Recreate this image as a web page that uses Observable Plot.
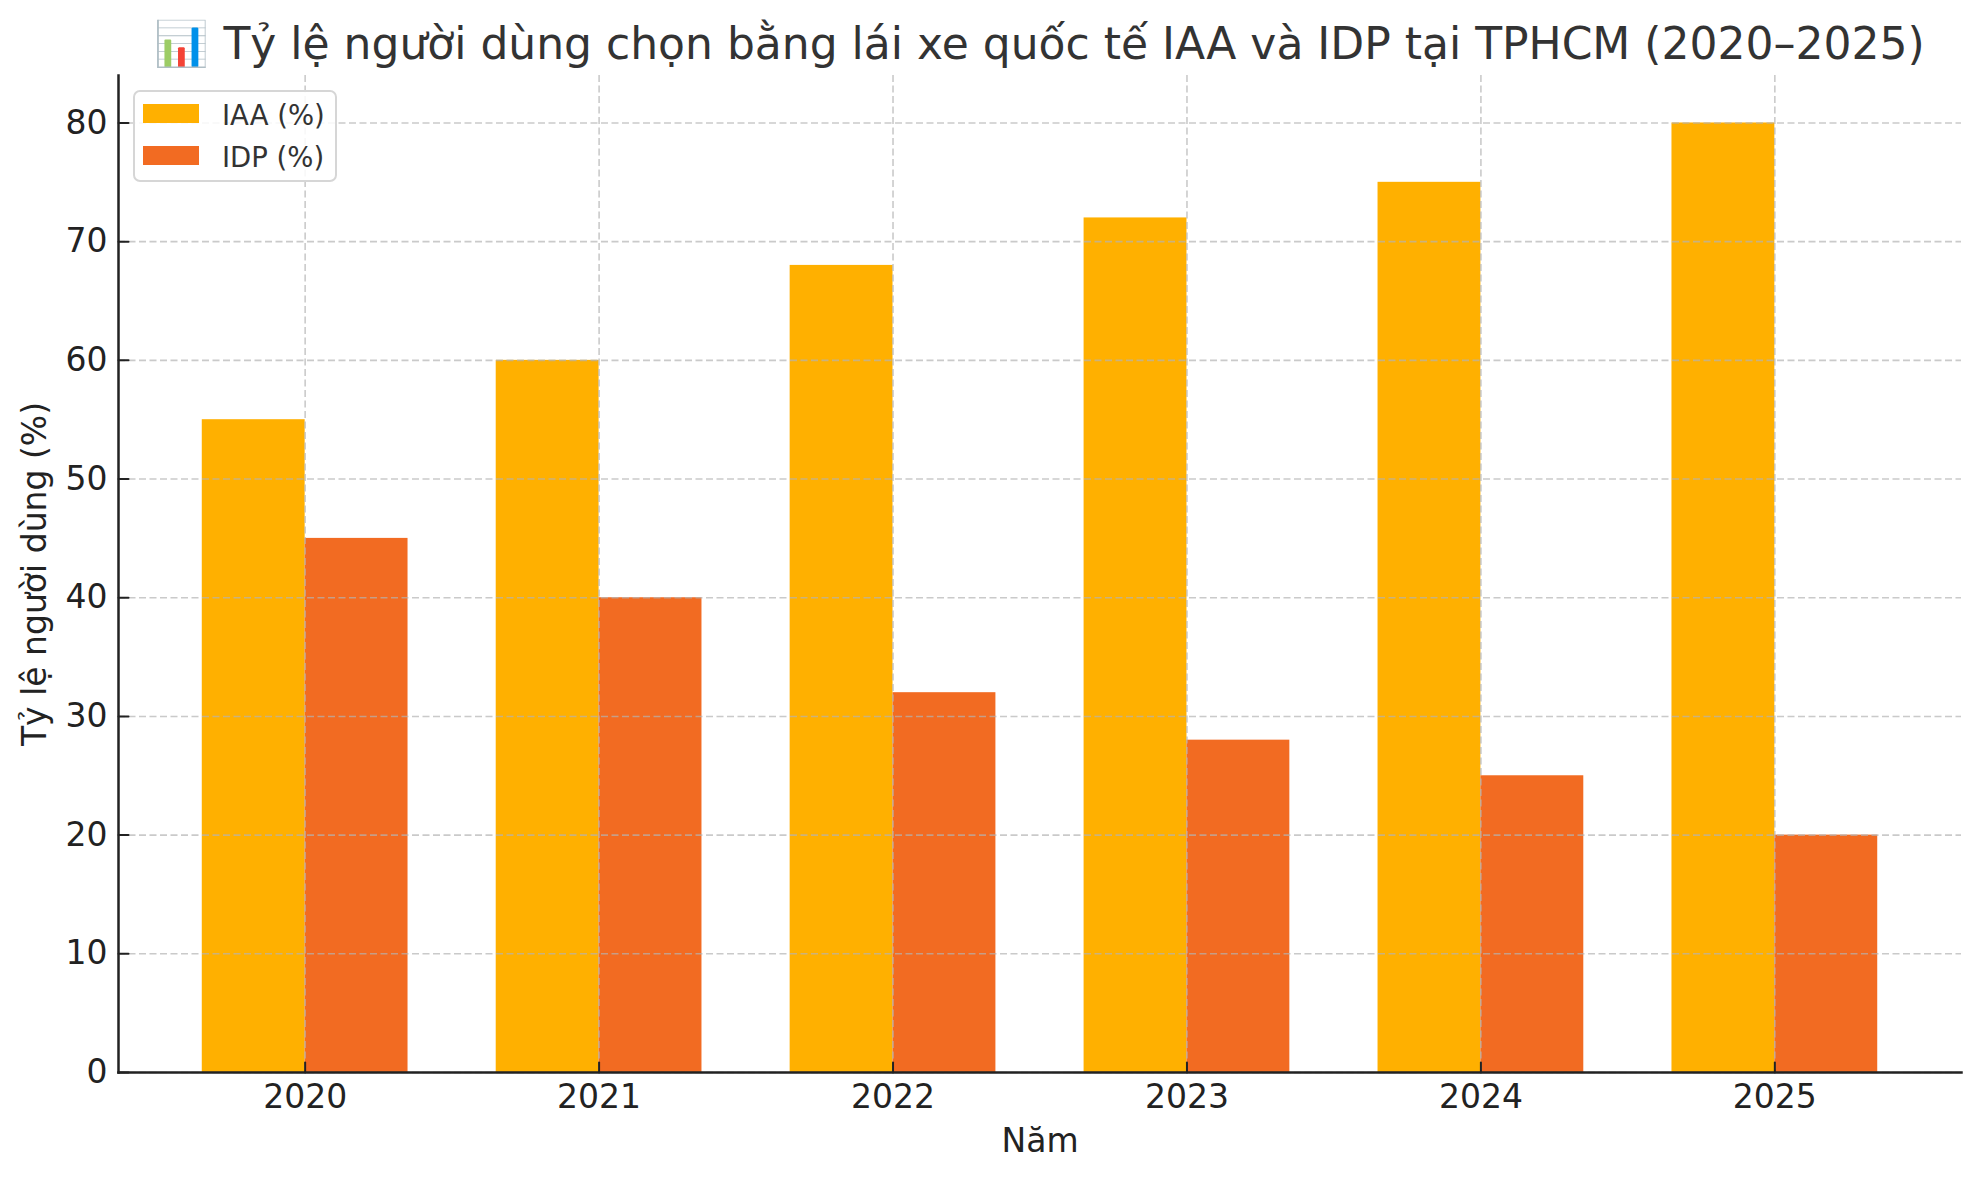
<!DOCTYPE html>
<html>
<head>
<meta charset="utf-8">
<script src="https://cdn.jsdelivr.net/npm/d3@7"></script>
<script src="https://cdn.jsdelivr.net/npm/@observablehq/plot@0.6"></script>
<style>
html, body { margin: 0; padding: 0; background: #fff; }
#wrap { position: relative; width: 1980px; height: 1180px; font-family: "DejaVu Sans", sans-serif; overflow: hidden; }
#title { position: absolute; left: 118px; width: 1843px; top: 0; height: 60px; text-align: center; font-size: 44px; line-height: 44px; padding-top: 22px; color: #333; box-sizing: border-box; white-space: nowrap; }
#chart { position: absolute; left: 0; top: 60px; }
#legend { position: absolute; left: 133px; top: 90px; width: 204px; height: 92px; box-sizing: border-box; border: 2px solid #d6d6d6; border-radius: 7px; background: rgba(255,255,255,0.85); }
.lg-patch { position: absolute; left: 8px; width: 56px; height: 19px; }
.lg-text { position: absolute; left: 87px; font-size: 27.5px; line-height: 32px; color: #333; white-space: nowrap; }
</style>
</head>
<body>
<div id="wrap">
  <div id="title"></div>
  <div id="chart"></div>
  <div id="legend"></div>
</div>
<script>
// ---- data ----
const titleText = "📊 Tỷ lệ người dùng chọn bằng lái xe quốc tế IAA và IDP tại TPHCM (2020–2025)";
const xLabel = "Năm";
const yLabel = "Tỷ lệ người dùng (%)";
const years = ["2020", "2021", "2022", "2023", "2024", "2025"];
const iaa = [55, 60, 68, 72, 75, 80];
const idp = [45, 40, 32, 28, 25, 20];
const seriesNames = ["IAA (%)", "IDP (%)"];
const seriesColors = ["#FFB000", "#F26B22"];
const yTicks = [0, 10, 20, 30, 40, 50, 60, 70, 80];

// ---- table built from the arrays ----
const seriesValues = [iaa, idp];
const rows = [];
years.forEach((yr, i) => {
  seriesNames.forEach((s, k) => {
    rows.push({ i, year: yr, series: s, k, value: seriesValues[k][i] });
  });
});
const xTicks = years.map((_, i) => i);
const barW = 0.35;

document.getElementById("title").textContent = titleText;

const tickShape = { draw(ctx, l) { ctx.moveTo(0, 0); ctx.lineTo(0, -l); } };
const gridStyle = { stroke: "#b4b4b4", strokeOpacity: 0.7, strokeDasharray: "7,3.5", strokeWidth: 1.6 };

const chart = Plot.plot({
  width: 1980,
  height: 1120,
  marginTop: 15,
  marginBottom: 108,
  marginLeft: 118,
  marginRight: 19,
  style: { fontFamily: "DejaVu Sans", fontSize: "33px", color: "#222", background: "transparent" },
  x: { type: "linear", domain: [-0.635, 5.635] },
  y: { domain: [0, 84] },
  color: { domain: seriesNames, range: seriesColors },
  marks: [
    Plot.rectY(rows, {
      x1: d => d.i + (d.k - 1) * barW,
      x2: d => d.i + d.k * barW,
      y1: 0,
      y2: "value",
      fill: "series"
    }),
    Plot.gridX(xTicks, gridStyle),
    Plot.gridY(yTicks, gridStyle),
    Plot.axisX(xTicks, {
      tickFormat: i => years[i],
      tickSize: 0,
      tickPadding: 12,
      label: xLabel,
      labelAnchor: "center",
      labelArrow: "none",
      labelOffset: 79
    }),
    Plot.axisY(yTicks, {
      tickSize: 0,
      tickPadding: 11,
      label: yLabel,
      labelAnchor: "center",
      labelArrow: "none",
      labelOffset: 96
    }),
    Plot.vectorX(xTicks, { x: d => d, frameAnchor: "bottom", rotate: 0, anchor: "start", length: 10, shape: tickShape, stroke: "#222", strokeWidth: 2 }),
    Plot.vectorY(yTicks, { y: d => d, frameAnchor: "left", rotate: 90, anchor: "start", length: 10, shape: tickShape, stroke: "#222", strokeWidth: 2 }),
    Plot.frame({ anchor: "left", stroke: "#222", strokeWidth: 2.5 }),
    Plot.frame({ anchor: "bottom", stroke: "#222", strokeWidth: 2.5 })
  ]
});
document.getElementById("chart").appendChild(chart);

// legend
const legend = document.getElementById("legend");
seriesNames.forEach((s, k) => {
  const p = document.createElement("div");
  p.className = "lg-patch";
  p.style.top = (12 + k * 42) + "px";
  p.style.background = seriesColors[k];
  legend.appendChild(p);
  const t = document.createElement("div");
  t.className = "lg-text";
  t.style.top = (7 + k * 42) + "px";
  t.textContent = s;
  legend.appendChild(t);
});
</script>
</body>
</html>
